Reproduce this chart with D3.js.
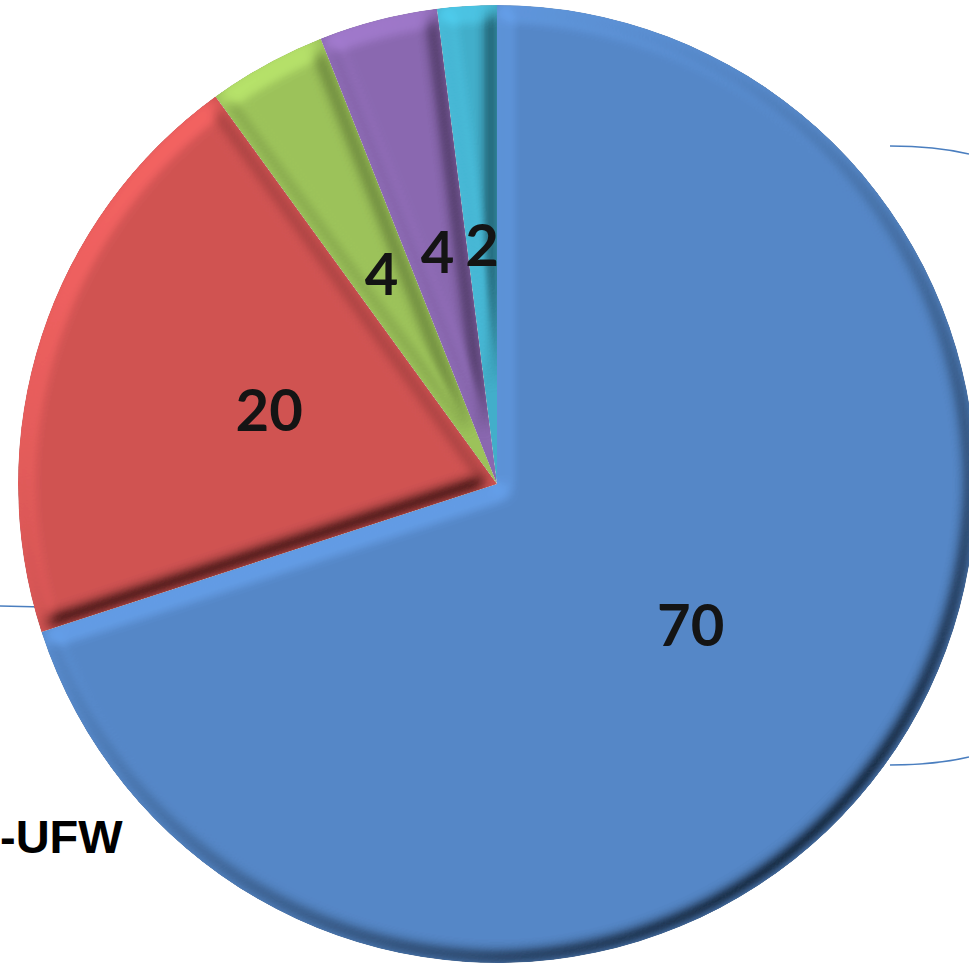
<!DOCTYPE html>
<html>
<head>
<meta charset="utf-8">
<script src="https://cdn.jsdelivr.net/npm/d3@7"></script>
<style>
  html, body { margin: 0; padding: 0; background: #fff; overflow: hidden; }
  #chart { width: 969px; height: 968px; }
</style>
</head>
<body>
<div id="chart"></div>
<script>
// slice values, clockwise from 12 o'clock
const values = [70, 20, 4, 4, 2];
const labels = ['70', '20', '4', '4', '2'];
const colors = ['#5587c7', '#d05352', '#9cc25a', '#8a68b0', '#42aeca'];

const width = 969;
const height = 968;
const cx = 497;
const cy = 484;
const radius = 479;
const explode = 0;

const svg = d3.select('#chart')
    .append('svg')
    .attr('width', width)
    .attr('height', height);

// bevel: shrunk + blurred alpha used as a height map, lit from the upper left
const defs = svg.append('defs');
const filter = defs.append('filter')
    .attr('id', 'bevel')
    .attr('x', '-5%').attr('y', '-5%')
    .attr('width', '110%').attr('height', '110%');
filter.append('feMorphology')
    .attr('in', 'SourceAlpha')
    .attr('operator', 'erode')
    .attr('radius', 6)
    .attr('result', 'thin');
filter.append('feGaussianBlur')
    .attr('in', 'thin')
    .attr('stdDeviation', 7)
    .attr('result', 'blur');
filter.append('feDiffuseLighting')
    .attr('in', 'blur')
    .attr('surfaceScale', 7)
    .attr('diffuseConstant', 1)
    .attr('lighting-color', '#fff')
    .attr('result', 'light')
  .append('feDistantLight')
    .attr('azimuth', 230)
    .attr('elevation', 45);
filter.append('feComposite')
    .attr('in', 'SourceGraphic')
    .attr('in2', 'light')
    .attr('operator', 'arithmetic')
    .attr('k1', 1.414).attr('k2', 0).attr('k3', 0).attr('k4', 0)
    .attr('result', 'lit');
filter.append('feComposite')
    .attr('in', 'lit')
    .attr('in2', 'SourceAlpha')
    .attr('operator', 'in');

// bits of the surrounding diagram that show at the edges
const decor = [
    'M890,146 Q935,146 969,154',
    'M890,765 Q935,765 969,757',
    'M0,606 L43,607'
];
svg.append('g')
    .selectAll('path')
    .data(decor)
    .enter()
    .append('path')
        .attr('d', d => d)
        .attr('fill', 'none')
        .attr('stroke', '#4a7ebf')
        .attr('stroke-width', 1.5);

const pie = d3.pie().sort(null).value(d => d);
const arcs = pie(values);

const arc = d3.arc()
    .innerRadius(0)
    .outerRadius(radius);

const g = svg.append('g')
    .attr('transform', `translate(${cx}, ${cy})`);

// offset each slice along its middle angle (kept at 0 here)
function shift(d) {
    const a = (d.startAngle + d.endAngle) / 2;
    return [Math.sin(a) * explode, -Math.cos(a) * explode];
}

const slices = g.selectAll('.slice')
    .data(arcs)
    .enter()
    .append('g')
        .attr('class', 'slice')
        .attr('transform', d => `translate(${shift(d)})`);

slices.append('path')
    .attr('d', arc)
    .attr('fill', (d, i) => colors[i])
    .attr('filter', 'url(#bevel)');

slices.append('text')
    .attr('transform', d => `translate(${arc.centroid(d)})`)
    .attr('text-anchor', 'middle')
    .attr('dy', '0.36em')
    .style('font-family', 'Lato, "Liberation Sans", sans-serif')
    .style('font-weight', 'bold')
    .style('font-size', '58px')
    .style('fill', '#141414')
    .text((d, i) => labels[i]);

// label of the neighbouring shape, at the left edge
svg.append('text')
    .attr('x', 0)
    .attr('y', 853)
    .style('font-family', '"Liberation Sans", Arial, sans-serif')
    .style('font-weight', 'bold')
    .style('font-size', '47px')
    .style('fill', '#000')
    .text('-UFW');
</script>
</body>
</html>
